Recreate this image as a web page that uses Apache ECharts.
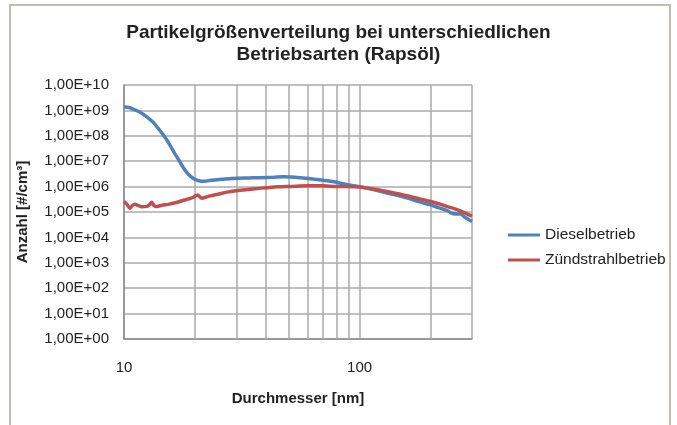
<!DOCTYPE html>
<html>
<head>
<meta charset="utf-8">
<script src="https://cdn.jsdelivr.net/npm/echarts@6/dist/echarts.min.js"></script>
<style>html,body{margin:0;padding:0;background:#fff}#c{width:677px;height:425px}</style>
</head>
<body>
<div id="c"></div>
<script>
var dieselX = [10,10.5,11,11.7,12.5,13.3,14,14.7,15.4,16.2,17,17.9,18.8,19.7,21,22,23,24.8,27,30,34,38,43,47.5,51,56,62,70,78,88,100,112,127,143,160,180,200,218,236,245,255,268,280,300];
var dieselY = [1.4e9,1.3e9,1.1e9,8.5e8,5.6e8,3.4e8,1.9e8,1.07e8,5.6e7,2.5e7,1.2e7,5.4e6,3.0e6,2.1e6,1.66e6,1.62e6,1.74e6,1.86e6,2.0e6,2.14e6,2.2e6,2.24e6,2.34e6,2.45e6,2.4e6,2.24e6,2.04e6,1.78e6,1.55e6,1.2e6,1.0e6,8.0e5,6.0e5,4.6e5,3.5e5,2.5e5,1.9e5,1.45e5,1.12e5,9.0e4,8.3e4,8.3e4,6.2e4,4.2e4];
var zuendX = [10,10.3,10.6,10.85,11.1,11.5,11.9,12.5,12.8,13.1,13.4,13.8,14.5,15.4,16.5,17.9,19,19.7,20.5,21.4,22.2,23.2,25,27.8,32,36,40.5,45,51,60,70,80,90,100,112,127,143,160,180,200,218,236,252,268,285,300];
var zuendY = [2.6e5,2.0e5,1.4e5,1.8e5,2.0e5,1.8e5,1.6e5,1.66e5,1.9e5,2.4e5,1.8e5,1.66e5,1.86e5,2.0e5,2.3e5,2.9e5,3.4e5,3.8e5,4.7e5,3.5e5,3.8e5,4.3e5,5.0e5,6.2e5,7.4e5,8.3e5,9.1e5,9.8e5,1.02e6,1.08e6,1.07e6,1.0e6,1.0e6,9.6e5,8.3e5,6.8e5,5.4e5,4.3e5,3.3e5,2.6e5,2.1e5,1.62e5,1.35e5,1.1e5,8.5e4,6.9e4];
var minorGridX = [20,30,40,50,60,70,80,90,200];
var seriesNames = ['Dieselbetrieb','Zündstrahlbetrieb'];

function pairs(xs, ys){ return xs.map(function(x,i){ return [x, ys[i]]; }); }

var font = 'Liberation Sans, Arial, sans-serif';
var chart = echarts.init(document.getElementById('c'), null, {renderer:'canvas'});
chart.setOption({
  animation:false,
  textStyle:{fontFamily:font},
  title:{
    text:'Partikelgrößenverteilung bei unterschiedlichen\nBetriebsarten (Rapsöl)',
    left:'center', top:17,
    textStyle:{fontFamily:font,fontSize:19,fontWeight:'bold',color:'#222',lineHeight:22}
  },
  graphic:[{type:'rect',shape:{x:10,y:5,width:660,height:440},style:{fill:'none',stroke:'#C2BDB4',lineWidth:2},silent:true}],
  legend:{
    orient:'vertical', left:503, top:222, itemWidth:32, itemHeight:3, itemGap:9, icon:'rect',
    textStyle:{fontFamily:font,fontSize:15.5,color:'#222'},
    data:seriesNames
  },
  grid:{left:124,top:85,right:205,bottom:86,containLabel:false},
  xAxis:{
    type:'log', logBase:10, min:10, max:300, interval:1,
    name:'Durchmesser [nm]', nameLocation:'middle', nameGap:52,
    nameTextStyle:{fontFamily:font,fontSize:15,fontWeight:'bold',color:'#222'},
    axisLine:{lineStyle:{color:'#8C8C8C',width:1.5}},
    axisTick:{show:false},
    axisLabel:{fontFamily:font,fontSize:15,color:'#222',margin:21,showMaxLabel:false,
      formatter:function(v){ return String(Math.round(v)); }},
    splitLine:{show:true,lineStyle:{color:'#AAAAAA',width:1.5}}
  },
  yAxis:{
    type:'log', logBase:10, min:1, max:1e10, interval:1,
    name:'Anzahl [#/cm³]', nameLocation:'middle', nameGap:94, nameRotate:90,
    nameTextStyle:{fontFamily:font,fontSize:15,fontWeight:'bold',color:'#222'},
    axisLine:{show:true,lineStyle:{color:'#8C8C8C',width:1.5}},
    axisTick:{show:false},
    axisLabel:{fontFamily:font,fontSize:15,color:'#222',margin:15,
      formatter:function(v){ var e=Math.round(Math.log10(v)); return '1,00E+'+(e<10?'0':'')+e; }},
    splitLine:{show:true,lineStyle:{color:'#AAAAAA',width:1.5}}
  },
  series:[
    {name:seriesNames[0],type:'line',data:pairs(dieselX,dieselY),showSymbol:false,symbol:'none',smooth:0.3,
      lineStyle:{color:'#4F81BD',width:3.5},itemStyle:{color:'#4F81BD'},z:3,
      markLine:{silent:true,symbol:'none',label:{show:false},animation:false,
        lineStyle:{color:'#AAAAAA',width:1.5,type:'solid'},
        data:minorGridX.map(function(v){ return {xAxis:v}; }),z:1}},
    {name:seriesNames[1],type:'line',data:pairs(zuendX,zuendY),showSymbol:false,symbol:'none',smooth:0.3,
      lineStyle:{color:'#C0504D',width:3.5},itemStyle:{color:'#C0504D'},z:4}
  ]
});
</script>
</body>
</html>
